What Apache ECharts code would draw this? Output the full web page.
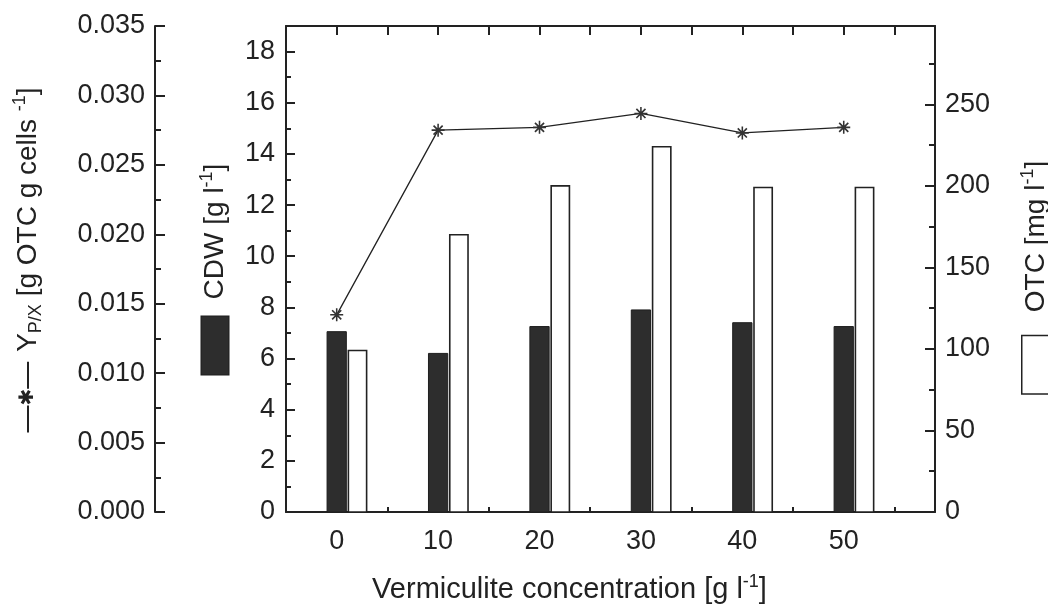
<!DOCTYPE html>
<html><head><meta charset="utf-8">
<script src="https://cdn.jsdelivr.net/npm/echarts@6/dist/echarts.min.js"></script>
<style>html,body{margin:0;padding:0;background:#fff}#c{width:1048px;height:604px}</style>
</head><body><div id="c"></div>
<script>
// ---- data ----
const concentrations = [0, 10, 20, 30, 40, 50];          // Vermiculite [g l-1]
const cdwValues = [7.05, 6.2, 7.25, 7.9, 7.4, 7.25];      // CDW [g l-1]
const otcValues = [99, 170, 200, 224, 199, 199];          // OTC [mg l-1]
const ypxValues = [0.0142, 0.0275, 0.0277, 0.0287, 0.0273, 0.0277]; // Y P/X
const xTickLabels = ['0', '10', '20', '30', '40', '50'];

const FONT = 'Liberation Sans, Arial, sans-serif';
const INK = '#222';

const cdwData = concentrations.map((c, i) => [c, cdwValues[i]]);
const otcData = concentrations.map((c, i) => [c, otcValues[i]]);
const ypxData = concentrations.map((c, i) => [c, ypxValues[i]]);

function barRenderer(offsetUnits, widthUnits, style) {
  return function (params, api) {
    const xv = api.value(0), yv = api.value(1);
    const top = api.coord([xv + offsetUnits, yv]);
    const base = api.coord([xv + offsetUnits, 0]);
    const w = api.size([widthUnits, 0])[0];
    return {
      type: 'rect',
      shape: { x: top[0], y: top[1], width: w, height: base[1] - top[1] },
      style: style
    };
  };
}

const starPath = 'path://M8.8 0H11.2V20H8.8Z M0 8.8H20V11.2H0Z M3.9 2.1L17.9 16.1L16.1 17.9L2.1 3.9Z M17.9 3.9L3.9 17.9L2.1 16.1L16.1 2.1Z';

const titleRich = {
  t: { fontSize: 28, fontFamily: FONT, color: INK, lineHeight: 34 },
  sub: { fontSize: 18, fontFamily: FONT, color: INK, verticalAlign: 'bottom', lineHeight: 22 },
  sup: { fontSize: 18, fontFamily: FONT, color: INK, verticalAlign: 'top', lineHeight: 20 },
  ln: { width: 27, height: 2, backgroundColor: INK },
  st: { fontSize: 20, fontFamily: 'DejaVu Sans', color: INK, lineHeight: 34 },
  sp: { width: 17, height: 2 },
  sp3: { width: 24, height: 2 },
  sp2: { width: 10, height: 2 },
  dbox: { width: 58, height: 27, backgroundColor: '#2d2d2d', borderColor: '#1e1e1e', borderWidth: 1 },
  wbox: { width: 57, height: 27, backgroundColor: '#fff', borderColor: INK, borderWidth: 1.5 }
};

const axisLineStyle = { lineStyle: { color: INK, width: 2 } };

const option = {
  animation: false,
  backgroundColor: '#fff',
  grid: { left: 286, right: 113, top: 26, bottom: 92, containLabel: false, outerBoundsMode: 'none' },
  xAxis: [
    {
      type: 'value', position: 'bottom', min: -5, max: 59, interval: 5,
      axisLine: { onZero: false, ...axisLineStyle },
      axisTick: { inside: true, length: 5, lineStyle: { color: INK, width: 2 } },
      splitLine: { show: false },
      axisLabel: {
        margin: 16, fontSize: 27, fontFamily: FONT, color: INK,
        formatter: v => { const s = String(Math.round(v)); return (Math.abs(v - Math.round(v)) < 1e-6 && xTickLabels.includes(s)) ? s : ''; }
      },
      name: '{t|Vermiculite concentration [g l}{sup|-1}{t|]}',
      nameLocation: 'middle', nameGap: 61,
      nameTextStyle: { padding: [0, 82, 0, 0], rich: {
        t: { fontSize: 29, fontFamily: FONT, color: INK, lineHeight: 34 },
        sup: { fontSize: 18, fontFamily: FONT, color: INK, verticalAlign: 'top', lineHeight: 20 } } }
    },
    {
      type: 'value', position: 'top', min: -5, max: 59, interval: 5,
      axisLine: { onZero: false, ...axisLineStyle },
      axisTick: { inside: true, length: 9, lineStyle: { color: INK, width: 2 } },
      axisLabel: { show: false }, splitLine: { show: false }
    }
  ],
  yAxis: [
    {
      type: 'value', position: 'left', min: 0, max: 19, interval: 2,
      axisLine: { show: true, onZero: false, ...axisLineStyle },
      axisTick: { show: true, inside: true, length: 9, lineStyle: { color: INK, width: 2 } },
      minorTick: { show: true, splitNumber: 2, length: 5, lineStyle: { color: INK, width: 2 } },
      splitLine: { show: false },
      axisLabel: { margin: 11, fontSize: 27, fontFamily: FONT, color: INK, showMaxLabel: false },
      name: '{dbox|}{sp|}{t|CDW [g l}{sup|-1}{t|]}',
      nameLocation: 'middle', nameRotate: 90, nameGap: 54,
      nameTextStyle: { rich: titleRich }
    },
    {
      type: 'value', position: 'right', min: 0, max: 298, interval: 50,
      axisLine: { show: true, onZero: false, ...axisLineStyle },
      axisTick: { show: true, inside: true, length: 10, lineStyle: { color: INK, width: 2 } },
      minorTick: { show: true, splitNumber: 2, length: 6, lineStyle: { color: INK, width: 2 } },
      splitLine: { show: false },
      axisLabel: { margin: 10, fontSize: 27, fontFamily: FONT, color: INK, showMaxLabel: false },
      name: '{wbox|}{sp3|}{t|OTC [mg l}{sup|-1}{t|]}',
      nameLocation: 'middle', nameRotate: 90, nameGap: 84,
      nameTextStyle: { padding: [0, 16, 0, 0], rich: titleRich }
    },
    {
      type: 'value', position: 'left', offset: 131, min: 0, max: 0.035, interval: 0.005,
      axisLine: { show: true, onZero: false, ...axisLineStyle },
      axisTick: { show: true, inside: true, length: 10, lineStyle: { color: INK, width: 2 } },
      minorTick: { show: true, splitNumber: 2, length: 6, lineStyle: { color: INK, width: 2 } },
      splitLine: { show: false },
      axisLabel: { margin: 10, fontSize: 27, fontFamily: FONT, color: INK, formatter: v => v.toFixed(3) },
      name: '{ln|}{st|✱}{ln|}{sp2|}{t|Y}{sub|P/X}{t| [g OTC g cells }{sup|-1}{t|]}',
      nameLocation: 'middle', nameRotate: 90, nameGap: 110,
      nameTextStyle: { padding: [0, 0, 0, 18], rich: titleRich }
    }
  ],
  series: [
    {
      name: 'CDW', type: 'custom', xAxisIndex: 0, yAxisIndex: 0, z: 2,
      renderItem: barRenderer(-0.95, 1.9, { fill: '#2d2d2d', stroke: '#1e1e1e', lineWidth: 1 }),
      encode: { x: 0, y: 1 }, data: cdwData
    },
    {
      name: 'OTC', type: 'custom', xAxisIndex: 0, yAxisIndex: 1, z: 2,
      renderItem: barRenderer(1.15, 1.8, { fill: '#fff', stroke: INK, lineWidth: 1.6 }),
      encode: { x: 0, y: 1 }, data: otcData
    },
    {
      name: 'Y P/X', type: 'line', xAxisIndex: 0, yAxisIndex: 2, z: 5,
      data: ypxData, symbol: starPath, symbolSize: 13,
      lineStyle: { color: INK, width: 1.3 },
      itemStyle: { color: '#333' }
    }
  ]
};

const chart = echarts.init(document.getElementById('c'), null, { renderer: 'canvas' });
chart.setOption(option);
</script>
</body></html>
